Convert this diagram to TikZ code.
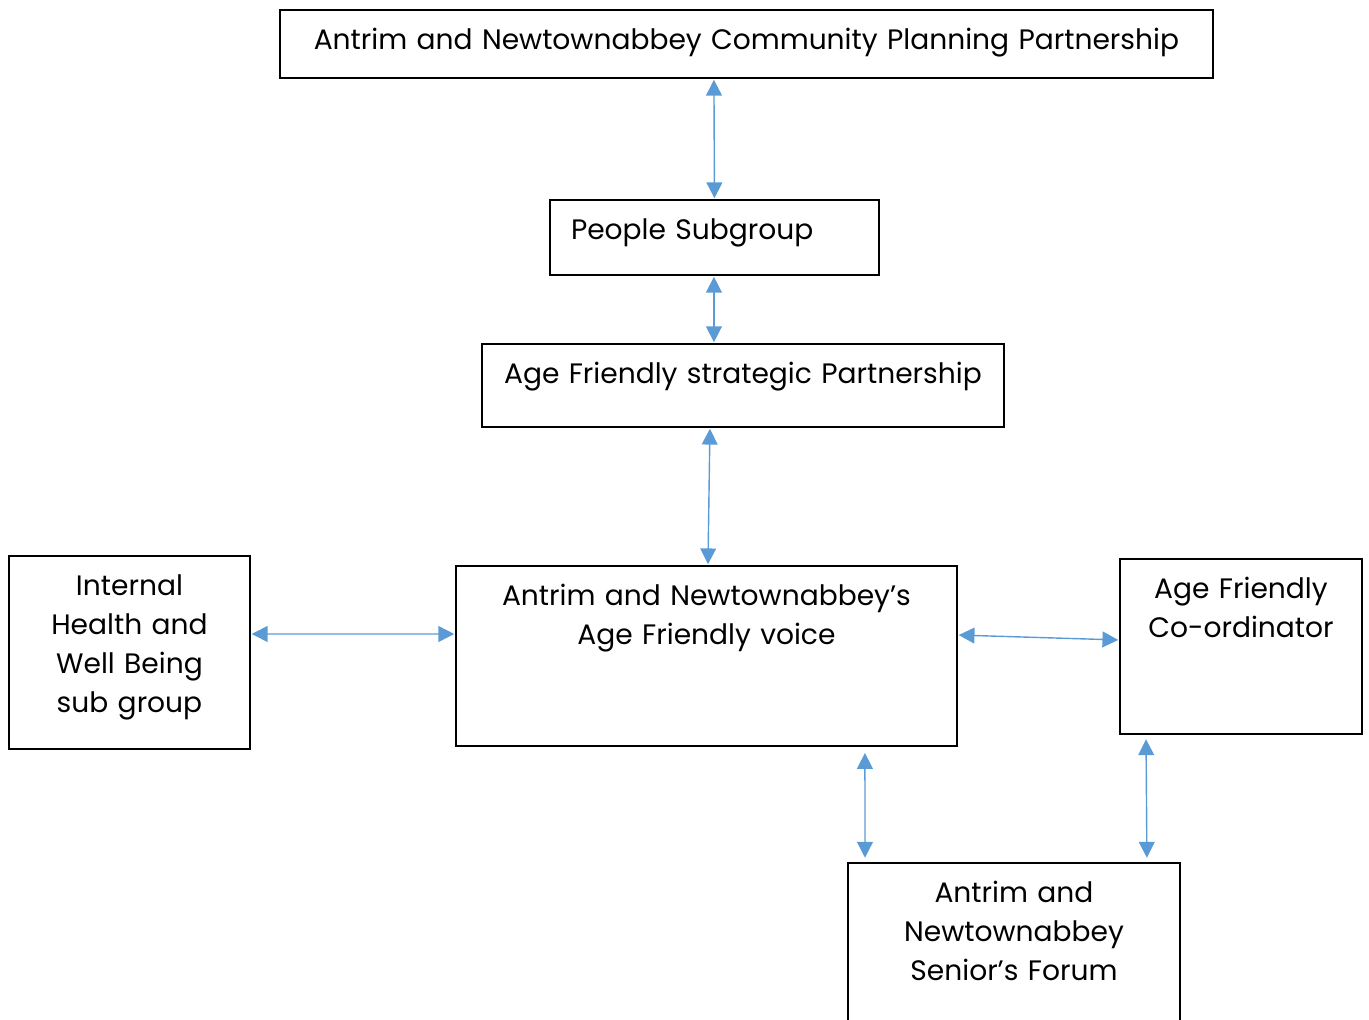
\documentclass[tikz,border=0pt]{standalone}
\usepackage{fontspec}
\setmainfont{Poppins}
\usetikzlibrary{arrows.meta,calc}

\begin{document}
\begin{tikzpicture}[x=0.02cm,y=-0.02cm,
  block/.style={draw,line width=1pt,rectangle,anchor=north west,inner sep=0pt,outer sep=0pt,
    align=center,text height=0.79cm,font=\fontsize{16}{22.2}\selectfont},
  link/.style={draw,line width=0.8pt,color=linkblue,{Triangle[length=9pt,width=9pt]}-{Triangle[length=9pt,width=9pt]},
    shorten >=1pt,shorten <=1pt}]
\definecolor{linkblue}{RGB}{91,155,213}
\useasboundingbox (0,0) rectangle (1369,1019);
\clip (0,0) rectangle (1369,1019);
\path
(280,10) node [block,text width=18.66cm,text depth=0.57cm] (cpp) {Antrim and Newtownabbey Community Planning Partnership}
(550,200) node [block,text width=5.74cm,inner xsep=0.42cm,align=left,text depth=0.71cm] (people) {People Subgroup}
(482,344) node [block,text width=10.44cm,text depth=0.87cm] (afsp) {Age Friendly strategic Partnership}
(9,556) node [block,text width=4.82cm,text depth=3.07cm] (internal) {Internal\\Health and\\Well Being\\sub group}
(456,566) node [block,text width=10.02cm,text depth=2.81cm] (voice) {Antrim and Newtownabbey’s\\Age Friendly voice}
(1120,559) node [block,text width=4.84cm,text depth=2.71cm] (coord) {Age Friendly\\Co-ordinator}
(848,863) node [block,text width=6.64cm,text depth=3.4cm] (forum) {Antrim and\\Newtownabbey\\Senior’s Forum}
;

\begin{scope}[every path/.style=link]
\path ([xshift=-0.65cm]cpp.south) -- (people.south |- people.north);
\path ([xshift=-0.58cm]afsp.north |- people.south) -- ([xshift=-0.58cm]afsp.north);
\path ([xshift=-0.66cm]afsp.south) -- ([xshift=0.03cm]voice.north);
\path ([yshift=0.37cm]internal.east) -- ([yshift=0.44cm]voice.west);
\path ([yshift=0.42cm]voice.east) -- ([yshift=0.13cm]coord.west);
\path[shorten <=4pt,shorten >=3pt] ([xshift=3.17cm]voice.south) -- ([xshift=-2.98cm]forum.north);
\path[shorten <=3pt,shorten >=3pt] ([xshift=-1.9cm]coord.south) -- ([xshift=2.66cm]forum.north);
\end{scope}
\end{tikzpicture}
\end{document}
